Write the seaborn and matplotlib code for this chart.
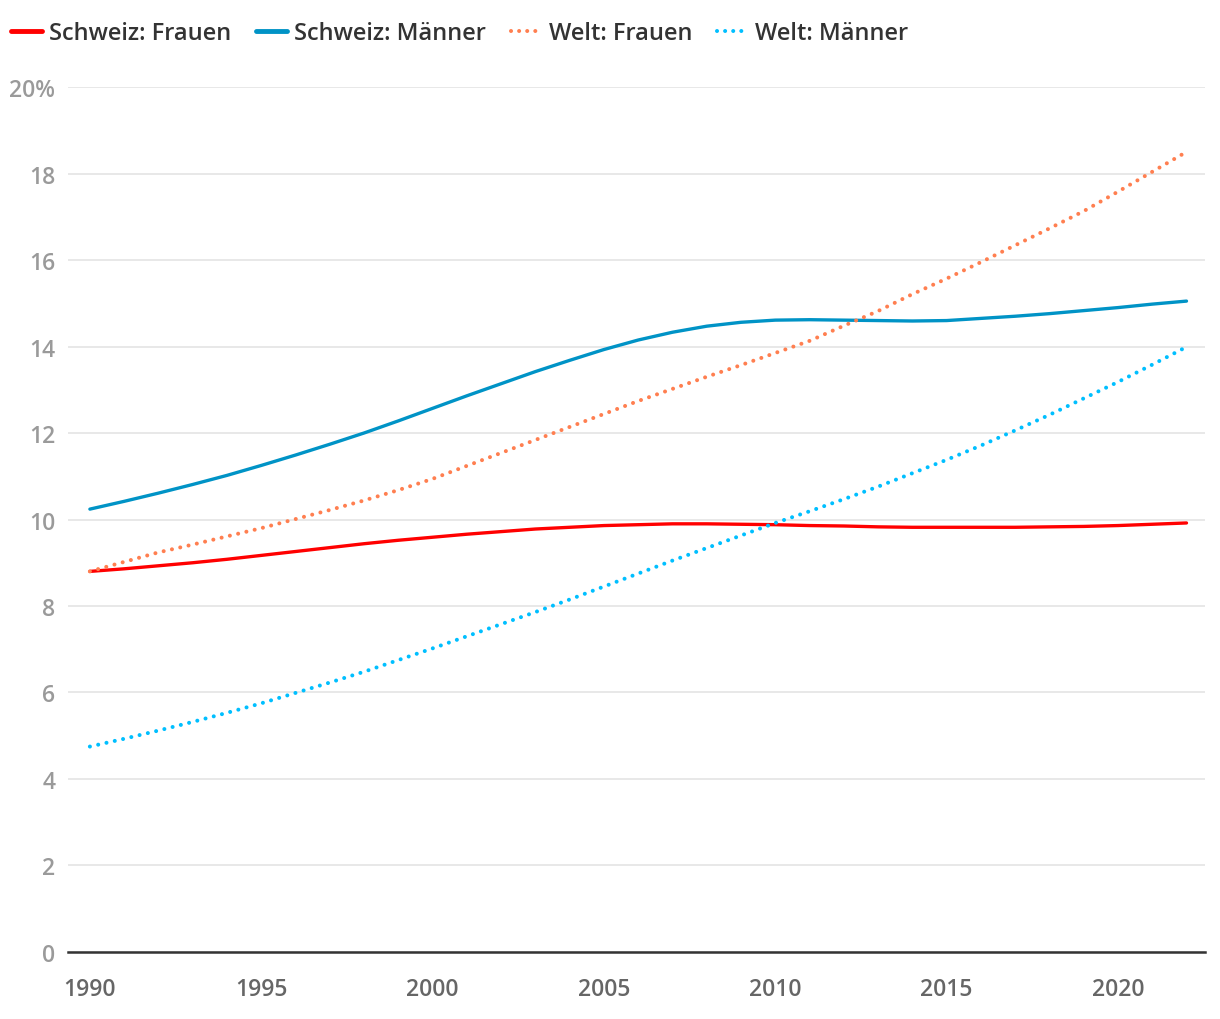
import pandas as pd
import matplotlib.pyplot as plt
import seaborn as sns
from matplotlib.lines import Line2D

sns.set_style("white")
plt.rcParams['font.family'] = ['Open Sans', 'DejaVu Sans']

# --- data ---
years = list(range(1990, 2023))

ch_women = [8.80, 8.86, 8.93, 9.00, 9.08, 9.17, 9.26, 9.35, 9.44, 9.52,
            9.59, 9.66, 9.72, 9.78, 9.82, 9.86, 9.88, 9.90, 9.90, 9.89,
            9.88, 9.86, 9.85, 9.83, 9.82, 9.82, 9.82, 9.82, 9.83, 9.84,
            9.86, 9.89, 9.92]
ch_men = [10.24, 10.42, 10.61, 10.81, 11.02, 11.25, 11.49, 11.74, 12.00, 12.28,
          12.57, 12.86, 13.14, 13.42, 13.68, 13.93, 14.15, 14.33, 14.47, 14.56,
          14.61, 14.62, 14.61, 14.60, 14.59, 14.60, 14.65, 14.70, 14.76, 14.83,
          14.90, 14.98, 15.05]
world_women = [8.80, 9.02, 9.24, 9.42, 9.61, 9.80, 10.01, 10.22, 10.44, 10.68,
               10.94, 11.24, 11.54, 11.84, 12.14, 12.44, 12.74, 13.02, 13.30, 13.57,
               13.85, 14.13, 14.48, 14.82, 15.21, 15.57, 15.95, 16.34, 16.73, 17.13,
               17.58, 18.04, 18.50]
world_men = [4.75, 4.93, 5.12, 5.32, 5.53, 5.75, 5.99, 6.23, 6.48, 6.75,
             7.02, 7.30, 7.58, 7.86, 8.15, 8.45, 8.75, 9.05, 9.34, 9.63,
             9.92, 10.19, 10.47, 10.76, 11.07, 11.38, 11.71, 12.06, 12.42, 12.80,
             13.18, 13.58, 13.99]

labels = ["Schweiz: Frauen", "Schweiz: Männer", "Welt: Frauen", "Welt: Männer"]
colors = ["#ff0000", "#0093c6", "#ff7f50", "#00bfff"]
dotted = [False, False, True, True]
series = [ch_women, ch_men, world_women, world_men]

y_ticks = [0, 2, 4, 6, 8, 10, 12, 14, 16, 18, 20]
x_ticks = [1990, 1995, 2000, 2005, 2010, 2015, 2020]

fig = plt.figure(figsize=(12.2, 10.2), dpi=100)
ax = fig.add_axes([0.0557, 0.0657, 0.932, 0.848])

for vals, lab, col, dot in zip(series, labels, colors, dotted):
    df = pd.DataFrame({"Jahr": years, "Wert": vals})
    if dot:
        sns.lineplot(data=df, x="Jahr", y="Wert", ax=ax, color=col, linewidth=2.9,
                     linestyle=(0, (0.01, 2.1)), dash_capstyle='round')
    else:
        sns.lineplot(data=df, x="Jahr", y="Wert", ax=ax, color=col, linewidth=2.4)

ax.set_xlim(1989.36, 2022.54)
ax.set_ylim(0, 20)
ax.set_xlabel("")
ax.set_ylabel("")

ax.set_yticks(y_ticks)
ax.set_yticklabels([f"{t}%" if t == 20 else str(t) for t in y_ticks])
ax.set_xticks(x_ticks)
ax.set_xticklabels([str(t) for t in x_ticks])

ax.grid(axis='y', color='#e6e6e6', linewidth=1.3)
ax.set_axisbelow(True)
for s in ['top', 'right', 'left']:
    ax.spines[s].set_visible(False)
ax.spines['bottom'].set_color('#333333')
ax.spines['bottom'].set_linewidth(1.8)
ax.spines['bottom'].set_zorder(5)

ax.tick_params(axis='y', length=0, pad=9, labelsize=16.5, labelcolor='#9a9a9a')
ax.tick_params(axis='x', length=8, width=1, color='#333333', pad=10,
               labelsize=16.5, labelcolor='#666666', direction='out')
for t in ax.get_xticklabels() + ax.get_yticklabels():
    t.set_fontweight('semibold')

handles = []
for lab, col, dot in zip(labels, colors, dotted):
    if dot:
        h = Line2D([0], [0], color=col, linewidth=2.9, linestyle=(0, (0.01, 2.0)),
                   dash_capstyle='round')
    else:
        h = Line2D([0], [0], color=col, linewidth=3.5, solid_capstyle='round')
    handles.append(h)

leg = fig.legend(handles, labels, loc='upper left', bbox_to_anchor=(-0.008, 0.999), ncol=4,
                 frameon=False, fontsize=17, handlelength=1.3, handletextpad=0.3,
                 columnspacing=1.05, labelcolor='#333333')
for t in leg.get_texts():
    t.set_fontweight('semibold')

fig.savefig("out.png", dpi=100)
